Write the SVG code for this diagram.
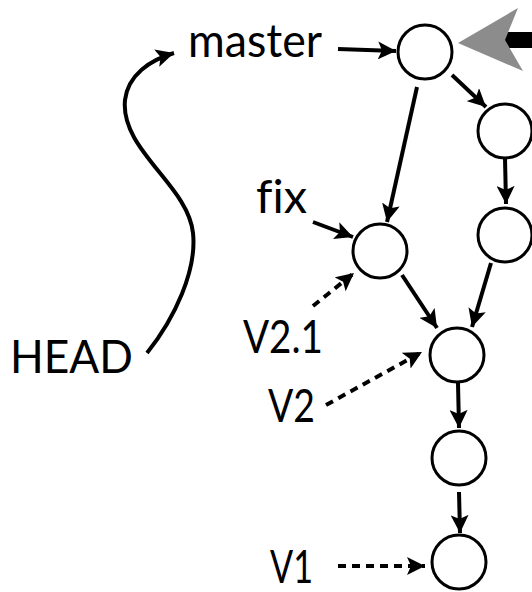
<svg xmlns="http://www.w3.org/2000/svg" width="532" height="592" viewBox="0 0 532 592">
<style>
.commit{fill:#fff;stroke:#000;stroke-width:3}
.lbl{font-family:"Lato","Open Sans",sans-serif;font-size:47px;fill:#000;font-variant-ligatures:none;font-feature-settings:"liga" 0}
.edge{fill:none;stroke:#000;stroke-width:4}
.dash{fill:none;stroke:#000;stroke-width:4;stroke-dasharray:8 6}
</style>
<defs>
<marker id="ah" markerUnits="userSpaceOnUse" markerWidth="20" markerHeight="18" refX="18" refY="9" orient="auto">
<path d="M0,0 L18,9 L0,18 L4,9 Z" fill="#000"/>
</marker>
</defs>
<rect width="532" height="592" fill="#fff"/>
<g id="edges">
<path class="edge" d="M338,49 L396,51" marker-end="url(#ah)"/>
<path class="edge" d="M452,75 L486,107" marker-end="url(#ah)"/>
<path class="edge" d="M417,87 L387,222" marker-end="url(#ah)"/>
<path class="edge" d="M505,158 L506,204" marker-end="url(#ah)"/>
<path class="edge" d="M491,263 L472,327" marker-end="url(#ah)"/>
<path class="edge" d="M402,275 L437,328" marker-end="url(#ah)"/>
<path class="edge" d="M313,222 L353,237" marker-end="url(#ah)"/>
<path class="dash" d="M313,306 L354,273" marker-end="url(#ah)"/>
<path class="dash" d="M326,405 L422,352" marker-end="url(#ah)"/>
<path class="edge" d="M458,383 L459,428" marker-end="url(#ah)"/>
<path class="edge" d="M459,492 L460,533" marker-end="url(#ah)"/>
<path class="dash" d="M338,566 L425,566" marker-end="url(#ah)"/>
<path class="edge" d="M147,353 C175,318 197,270 193,233 C188,185 120,150 125,100 C128,75 150,60 174,53" marker-end="url(#ah)"/>
<rect x="505" y="32" width="27" height="16" fill="#000"/>
<polygon points="458,43 518,8 505,40 523,71" fill="#8c8c8c"/>
</g>
<g id="c1"><circle class="commit" cx="425" cy="52" r="27"/></g>
<g id="c2"><circle class="commit" cx="505" cy="131" r="27"/></g>
<g id="c3"><circle class="commit" cx="505" cy="235" r="27"/></g>
<g id="cfix"><circle class="commit" cx="380" cy="251" r="27"/></g>
<g id="cv2"><circle class="commit" cx="457" cy="355" r="27"/></g>
<g id="c5"><circle class="commit" cx="459" cy="458" r="27"/></g>
<g id="cv1"><circle class="commit" cx="459" cy="562" r="27"/></g>
<g id="master"><text class="lbl" x="188" y="57" textLength="134" lengthAdjust="spacingAndGlyphs">master</text></g>
<g id="head"><text class="lbl" x="10" y="373" textLength="123" lengthAdjust="spacingAndGlyphs">HEAD</text></g>
<g id="fix"><text class="lbl" x="256" y="213" font-size="40" textLength="51" lengthAdjust="spacingAndGlyphs">fix</text></g>
<g id="v21"><text class="lbl" x="243" y="353" textLength="80" lengthAdjust="spacingAndGlyphs">V2.1</text></g>
<g id="v2"><text class="lbl" x="268" y="422" textLength="47" lengthAdjust="spacingAndGlyphs">V2</text></g>
<g id="v1"><text class="lbl" x="270" y="583" textLength="43" lengthAdjust="spacingAndGlyphs">V1</text></g>
</svg>
